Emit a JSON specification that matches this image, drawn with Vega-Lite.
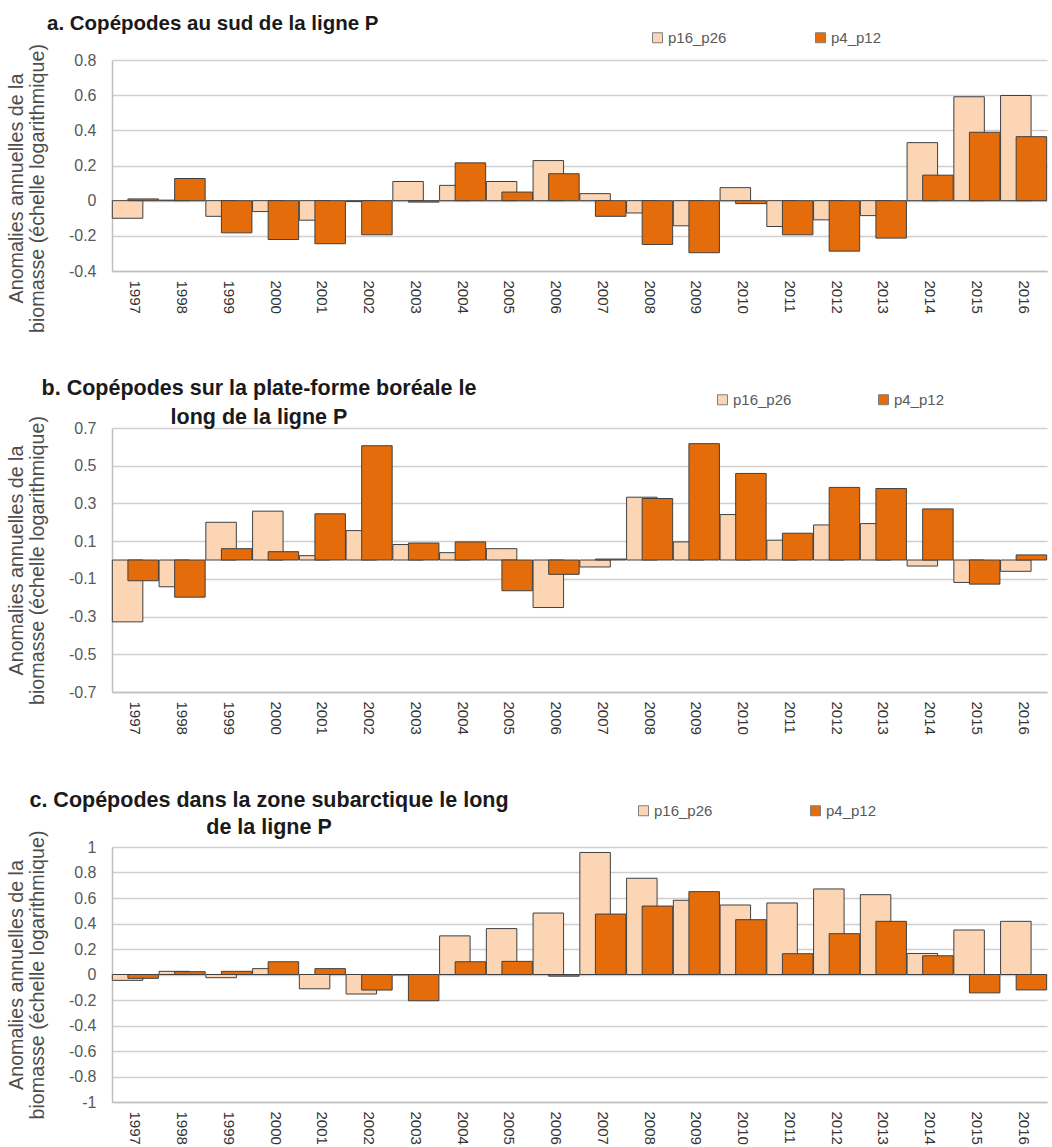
{
  "$schema": "https://vega.github.io/schema/vega-lite/v6.json",
  "padding": {"left": 6, "top": 13, "right": 0, "bottom": 0},
  "background": "white",
  "spacing": 44,
  "resolve": {"scale": {"color": "independent"}, "legend": {"color": "independent"}},
  "config": {
    "locale": {"number": {"decimal": ".", "thousands": ",", "grouping": [3], "currency": ["$", ""], "minus": "-"}},
    "view": {"stroke": null},
    "axis": {"gridColor": "#CFCFCF", "gridWidth": 1.5, "domainColor": "#BFBFBF", "domainWidth": 1.5, "ticks": false, "labelFont": "Liberation Sans", "titleFont": "Liberation Sans"},
    "title": {"font": "Liberation Sans", "fontWeight": "bold", "fontSize": 21.5, "color": "#1a1a1a"},
    "legend": {"labelFont": "Liberation Sans", "labelFontSize": 15, "labelColor": "#595959"}
  },
  "datasets": {
    "a": [
      {"year": "1997", "series": "p16_p26", "value": -0.10},
      {"year": "1998", "series": "p16_p26", "value": 0.003},
      {"year": "1999", "series": "p16_p26", "value": -0.089},
      {"year": "2000", "series": "p16_p26", "value": -0.062},
      {"year": "2001", "series": "p16_p26", "value": -0.111},
      {"year": "2002", "series": "p16_p26", "value": -0.005},
      {"year": "2003", "series": "p16_p26", "value": 0.109},
      {"year": "2004", "series": "p16_p26", "value": 0.087},
      {"year": "2005", "series": "p16_p26", "value": 0.109},
      {"year": "2006", "series": "p16_p26", "value": 0.228},
      {"year": "2007", "series": "p16_p26", "value": 0.04},
      {"year": "2008", "series": "p16_p26", "value": -0.07},
      {"year": "2009", "series": "p16_p26", "value": -0.143},
      {"year": "2010", "series": "p16_p26", "value": 0.074},
      {"year": "2011", "series": "p16_p26", "value": -0.147},
      {"year": "2012", "series": "p16_p26", "value": -0.109},
      {"year": "2013", "series": "p16_p26", "value": -0.085},
      {"year": "2014", "series": "p16_p26", "value": 0.33},
      {"year": "2015", "series": "p16_p26", "value": 0.591},
      {"year": "2016", "series": "p16_p26", "value": 0.598},
      {"year": "1997", "series": "p4_p12", "value": 0.01},
      {"year": "1998", "series": "p4_p12", "value": 0.126},
      {"year": "1999", "series": "p4_p12", "value": -0.183},
      {"year": "2000", "series": "p4_p12", "value": -0.221},
      {"year": "2001", "series": "p4_p12", "value": -0.245},
      {"year": "2002", "series": "p4_p12", "value": -0.194},
      {"year": "2003", "series": "p4_p12", "value": -0.008},
      {"year": "2004", "series": "p4_p12", "value": 0.215},
      {"year": "2005", "series": "p4_p12", "value": 0.049},
      {"year": "2006", "series": "p4_p12", "value": 0.153},
      {"year": "2007", "series": "p4_p12", "value": -0.089},
      {"year": "2008", "series": "p4_p12", "value": -0.249},
      {"year": "2009", "series": "p4_p12", "value": -0.296},
      {"year": "2010", "series": "p4_p12", "value": -0.017},
      {"year": "2011", "series": "p4_p12", "value": -0.194},
      {"year": "2012", "series": "p4_p12", "value": -0.287},
      {"year": "2013", "series": "p4_p12", "value": -0.213},
      {"year": "2014", "series": "p4_p12", "value": 0.145},
      {"year": "2015", "series": "p4_p12", "value": 0.389},
      {"year": "2016", "series": "p4_p12", "value": 0.364}
    ],
    "b": [
      {"year": "1997", "series": "p16_p26", "value": -0.328},
      {"year": "1998", "series": "p16_p26", "value": -0.142},
      {"year": "1999", "series": "p16_p26", "value": 0.200},
      {"year": "2000", "series": "p16_p26", "value": 0.259},
      {"year": "2001", "series": "p16_p26", "value": 0.023},
      {"year": "2002", "series": "p16_p26", "value": 0.156},
      {"year": "2003", "series": "p16_p26", "value": 0.082},
      {"year": "2004", "series": "p16_p26", "value": 0.039},
      {"year": "2005", "series": "p16_p26", "value": 0.060},
      {"year": "2006", "series": "p16_p26", "value": -0.252},
      {"year": "2007", "series": "p16_p26", "value": -0.037},
      {"year": "2008", "series": "p16_p26", "value": 0.333},
      {"year": "2009", "series": "p16_p26", "value": 0.096},
      {"year": "2010", "series": "p16_p26", "value": 0.241},
      {"year": "2011", "series": "p16_p26", "value": 0.105},
      {"year": "2012", "series": "p16_p26", "value": 0.186},
      {"year": "2013", "series": "p16_p26", "value": 0.193},
      {"year": "2014", "series": "p16_p26", "value": -0.032},
      {"year": "2015", "series": "p16_p26", "value": -0.119},
      {"year": "2016", "series": "p16_p26", "value": -0.060},
      {"year": "1997", "series": "p4_p12", "value": -0.11},
      {"year": "1998", "series": "p4_p12", "value": -0.197},
      {"year": "1999", "series": "p4_p12", "value": 0.060},
      {"year": "2000", "series": "p4_p12", "value": 0.044},
      {"year": "2001", "series": "p4_p12", "value": 0.245},
      {"year": "2002", "series": "p4_p12", "value": 0.606},
      {"year": "2003", "series": "p4_p12", "value": 0.090},
      {"year": "2004", "series": "p4_p12", "value": 0.096},
      {"year": "2005", "series": "p4_p12", "value": -0.163},
      {"year": "2006", "series": "p4_p12", "value": -0.076},
      {"year": "2007", "series": "p4_p12", "value": 0.005},
      {"year": "2008", "series": "p4_p12", "value": 0.326},
      {"year": "2009", "series": "p4_p12", "value": 0.617},
      {"year": "2010", "series": "p4_p12", "value": 0.459},
      {"year": "2011", "series": "p4_p12", "value": 0.142},
      {"year": "2012", "series": "p4_p12", "value": 0.385},
      {"year": "2013", "series": "p4_p12", "value": 0.379},
      {"year": "2014", "series": "p4_p12", "value": 0.271},
      {"year": "2015", "series": "p4_p12", "value": -0.128},
      {"year": "2016", "series": "p4_p12", "value": 0.027}
    ],
    "c": [
      {"year": "1997", "series": "p16_p26", "value": -0.046},
      {"year": "1998", "series": "p16_p26", "value": 0.025},
      {"year": "1999", "series": "p16_p26", "value": -0.025},
      {"year": "2000", "series": "p16_p26", "value": 0.046},
      {"year": "2001", "series": "p16_p26", "value": -0.112},
      {"year": "2002", "series": "p16_p26", "value": -0.153},
      {"year": "2003", "series": "p16_p26", "value": -0.003},
      {"year": "2004", "series": "p16_p26", "value": 0.303},
      {"year": "2005", "series": "p16_p26", "value": 0.36},
      {"year": "2006", "series": "p16_p26", "value": 0.482},
      {"year": "2007", "series": "p16_p26", "value": 0.957},
      {"year": "2008", "series": "p16_p26", "value": 0.755},
      {"year": "2009", "series": "p16_p26", "value": 0.582},
      {"year": "2010", "series": "p16_p26", "value": 0.545},
      {"year": "2011", "series": "p16_p26", "value": 0.561},
      {"year": "2012", "series": "p16_p26", "value": 0.671},
      {"year": "2013", "series": "p16_p26", "value": 0.626},
      {"year": "2014", "series": "p16_p26", "value": 0.165},
      {"year": "2015", "series": "p16_p26", "value": 0.349},
      {"year": "2016", "series": "p16_p26", "value": 0.417},
      {"year": "1997", "series": "p4_p12", "value": -0.03},
      {"year": "1998", "series": "p4_p12", "value": 0.022},
      {"year": "1999", "series": "p4_p12", "value": 0.025},
      {"year": "2000", "series": "p4_p12", "value": 0.10},
      {"year": "2001", "series": "p4_p12", "value": 0.046},
      {"year": "2002", "series": "p4_p12", "value": -0.122},
      {"year": "2003", "series": "p4_p12", "value": -0.206},
      {"year": "2004", "series": "p4_p12", "value": 0.10},
      {"year": "2005", "series": "p4_p12", "value": 0.103},
      {"year": "2006", "series": "p4_p12", "value": -0.013},
      {"year": "2007", "series": "p4_p12", "value": 0.474},
      {"year": "2008", "series": "p4_p12", "value": 0.537},
      {"year": "2009", "series": "p4_p12", "value": 0.65},
      {"year": "2010", "series": "p4_p12", "value": 0.43},
      {"year": "2011", "series": "p4_p12", "value": 0.163},
      {"year": "2012", "series": "p4_p12", "value": 0.320},
      {"year": "2013", "series": "p4_p12", "value": 0.417},
      {"year": "2014", "series": "p4_p12", "value": 0.147},
      {"year": "2015", "series": "p4_p12", "value": -0.144},
      {"year": "2016", "series": "p4_p12", "value": -0.121}
    ]
  },
  "vconcat": [
    {
      "width": 935, "height": 211,
      "data": {"name": "a"},
      "title": {"text": "a. Copépodes au sud de la ligne P", "anchor": "start", "frame": "group", "dx": -65, "offset": -4, "fontSize": 20.5},
      "mark": {"type": "bar", "stroke": "#404040", "strokeWidth": 1, "width": 30.5},
      "encoding": {
        "x": {"field": "year", "type": "ordinal", "scale": {"paddingInner": 0, "paddingOuter": 0},
              "axis": {"title": null, "labelAngle": 90, "labelPadding": 9, "labelFontSize": 15, "labelColor": "#333333", "domain": true}},
        "xOffset": {"field": "series", "type": "nominal", "sort": ["p16_p26", "p4_p12"], "scale": {"paddingInner": 0, "paddingOuter": 0.5}},
        "y": {"field": "value", "type": "quantitative", "scale": {"domain": [-0.4, 0.8], "nice": false},
              "axis": {"values": [-0.4, -0.2, 0, 0.2, 0.4, 0.6, 0.8], "format": ".1~f", "labelFontSize": 16, "labelColor": "#595959", "labelPadding": 16,
                       "title": ["Anomalies annuelles de la", "biomasse (échelle logarithmique)"], "titleFontSize": 19.7, "titleFontWeight": "normal", "titleColor": "#4d4d4d", "titleLineHeight": 21, "titlePadding": 21, "titleY": 128}},
        "color": {"field": "series", "type": "nominal", "sort": ["p16_p26", "p4_p12"],
                  "scale": {"domain": ["p16_p26", "p4_p12"], "range": ["#FCD5B5", "#E46C0A"]},
                  "legend": {"orient": "none", "legendX": 538, "legendY": -30, "direction": "horizontal", "title": null, "symbolType": "square", "symbolSize": 100, "columnPadding": 86, "labelOffset": 3, "symbolStrokeColor": "#7f7f7f", "symbolStrokeWidth": 1}}
      }
    },
    {
      "spacing": 54,
      "resolve": {"scale": {"color": "independent"}, "legend": {"color": "independent"}},
      "vconcat": [
        {
          "width": 935, "height": 264,
          "data": {"name": "b"},
          "title": {"text": ["b. Copépodes sur la plate-forme boréale le", "long de la ligne P"], "anchor": "start", "align": "center", "frame": "group", "dx": 147, "offset": -36, "lineHeight": 29},
          "mark": {"type": "bar", "stroke": "#404040", "strokeWidth": 1, "width": 30.5},
          "encoding": {
            "x": {"field": "year", "type": "ordinal", "scale": {"paddingInner": 0, "paddingOuter": 0},
                  "axis": {"title": null, "labelAngle": 90, "labelPadding": 9, "labelFontSize": 15, "labelColor": "#333333", "domain": true}},
            "xOffset": {"field": "series", "type": "nominal", "sort": ["p16_p26", "p4_p12"], "scale": {"paddingInner": 0, "paddingOuter": 0.5}},
            "y": {"field": "value", "type": "quantitative", "scale": {"domain": [-0.7, 0.7], "nice": false},
                  "axis": {"values": [-0.7, -0.5, -0.3, -0.1, 0.1, 0.3, 0.5, 0.7], "format": ".1~f", "labelFontSize": 16, "labelColor": "#595959", "labelPadding": 16,
                           "title": ["Anomalies annuelles de la", "biomasse (échelle logarithmique)"], "titleFontSize": 19.7, "titleFontWeight": "normal", "titleColor": "#4d4d4d", "titleLineHeight": 21, "titlePadding": 21}},
            "color": {"field": "series", "type": "nominal", "sort": ["p16_p26", "p4_p12"],
                      "scale": {"domain": ["p16_p26", "p4_p12"], "range": ["#FCD5B5", "#E46C0A"]},
                      "legend": {"orient": "none", "legendX": 603, "legendY": -36, "direction": "horizontal", "title": null, "symbolType": "square", "symbolSize": 100, "columnPadding": 84, "labelOffset": 3, "symbolStrokeColor": "#7f7f7f", "symbolStrokeWidth": 1}}
          }
        },
        {
          "width": 935, "height": 255,
          "data": {"name": "c"},
          "title": {"text": ["c. Copépodes dans la zone subarctique le long", "de la ligne P"], "anchor": "start", "align": "center", "frame": "group", "dx": 157, "offset": -35, "lineHeight": 27},
          "mark": {"type": "bar", "stroke": "#404040", "strokeWidth": 1, "width": 30.5},
          "encoding": {
            "x": {"field": "year", "type": "ordinal", "scale": {"paddingInner": 0, "paddingOuter": 0},
                  "axis": {"title": null, "labelAngle": 90, "labelPadding": 9, "labelFontSize": 15, "labelColor": "#333333", "domain": true}},
            "xOffset": {"field": "series", "type": "nominal", "sort": ["p16_p26", "p4_p12"], "scale": {"paddingInner": 0, "paddingOuter": 0.5}},
            "y": {"field": "value", "type": "quantitative", "scale": {"domain": [-1, 1], "nice": false},
                  "axis": {"values": [-1, -0.8, -0.6, -0.4, -0.2, 0, 0.2, 0.4, 0.6, 0.8, 1], "format": ".1~f", "labelFontSize": 16, "labelColor": "#595959", "labelPadding": 16,
                           "title": ["Anomalies annuelles de la", "biomasse (échelle logarithmique)"], "titleFontSize": 19.7, "titleFontWeight": "normal", "titleColor": "#4d4d4d", "titleLineHeight": 21, "titlePadding": 21}},
            "color": {"field": "series", "type": "nominal", "sort": ["p16_p26", "p4_p12"],
                      "scale": {"domain": ["p16_p26", "p4_p12"], "range": ["#FCD5B5", "#E46C0A"]},
                      "legend": {"orient": "none", "legendX": 524, "legendY": -44, "direction": "horizontal", "title": null, "symbolType": "square", "symbolSize": 100, "columnPadding": 95, "labelOffset": 3, "symbolStrokeColor": "#7f7f7f", "symbolStrokeWidth": 1}}
          }
        }
      ]
    }
  ]
}
